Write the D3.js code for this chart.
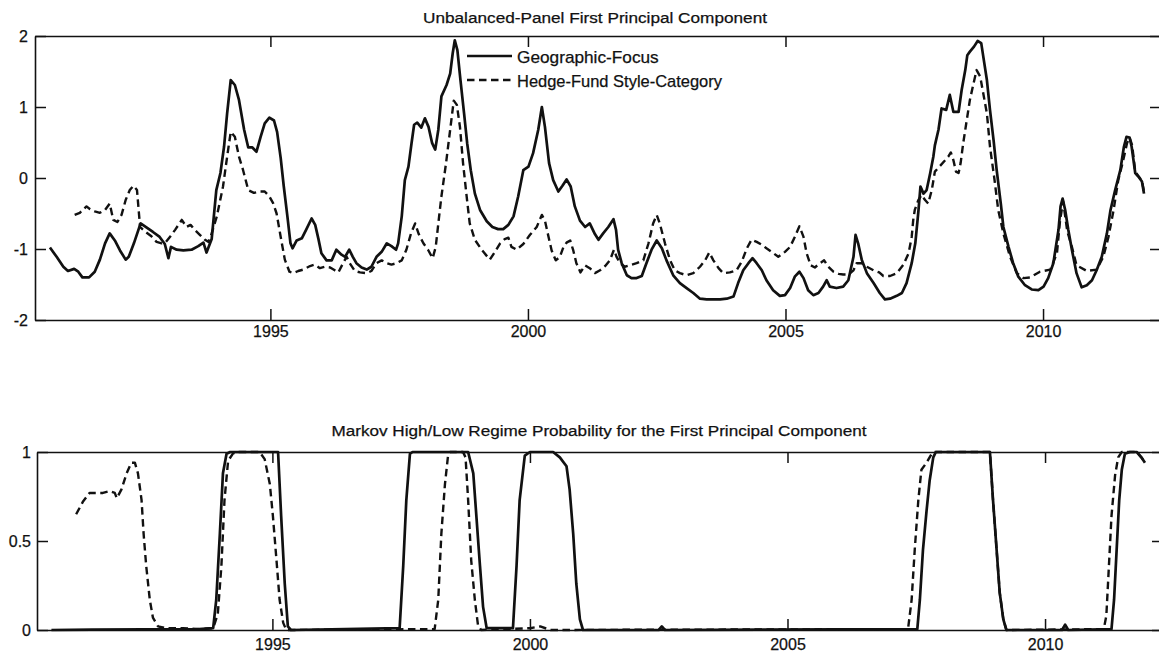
<!DOCTYPE html>
<html>
<head>
<meta charset="utf-8">
<script src="https://cdn.jsdelivr.net/npm/d3@7/dist/d3.min.js"></script>
<style>
  html, body { margin: 0; padding: 0; background: #fff; }
  svg { display: block; }
  text { font-family: "Liberation Sans", Arial, sans-serif; fill: #111; stroke: #111; stroke-width: 0.25px; }
</style>
</head>
<body>
<svg id="chart" width="1159" height="656"></svg>
<script>
// First principal component, Geographic-Focus grouping: [year, value]
const geoPC = [
  [1990.72,-0.98],[1990.85,-1.11],[1990.98,-1.25],[1991.07,-1.31],[1991.19,-1.28],[1991.27,-1.32],
  [1991.35,-1.40],[1991.48,-1.40],[1991.59,-1.32],[1991.69,-1.15],[1991.79,-0.92],[1991.88,-0.78],
  [1991.98,-0.88],[1992.08,-1.02],[1992.19,-1.15],[1992.25,-1.11],[1992.35,-0.92],[1992.48,-0.64],
  [1992.60,-0.70],[1992.72,-0.76],[1992.85,-0.83],[1992.95,-0.93],[1993.02,-1.13],[1993.07,-0.97],
  [1993.18,-1.01],[1993.31,-1.02],[1993.47,-1.01],[1993.60,-0.96],[1993.70,-0.91],[1993.76,-1.05],
  [1993.86,-0.86],[1993.95,-0.17],[1994.03,0.07],[1994.10,0.44],[1994.16,0.91],[1994.23,1.38],
  [1994.31,1.31],[1994.39,1.10],[1994.49,0.68],[1994.57,0.43],[1994.65,0.43],[1994.73,0.37],
  [1994.81,0.58],[1994.89,0.77],[1994.98,0.85],[1995.07,0.81],[1995.13,0.65],[1995.20,0.28],
  [1995.26,-0.12],[1995.33,-0.54],[1995.39,-0.92],[1995.43,-0.99],[1995.51,-0.88],[1995.61,-0.85],
  [1995.70,-0.72],[1995.80,-0.57],[1995.87,-0.66],[1995.93,-0.85],[1995.99,-1.06],[1996.09,-1.16],
  [1996.19,-1.16],[1996.28,-1.01],[1996.38,-1.08],[1996.45,-1.11],[1996.53,-1.01],[1996.60,-1.11],
  [1996.67,-1.20],[1996.77,-1.26],[1996.87,-1.29],[1996.96,-1.25],[1997.06,-1.11],[1997.16,-1.04],
  [1997.26,-0.92],[1997.35,-0.96],[1997.44,-1.01],[1997.48,-0.92],[1997.55,-0.54],[1997.61,-0.03],
  [1997.68,0.16],[1997.74,0.49],[1997.79,0.75],[1997.85,0.78],[1997.93,0.71],[1998.00,0.84],
  [1998.07,0.72],[1998.14,0.49],[1998.20,0.40],[1998.26,0.68],[1998.32,1.15],[1998.42,1.31],
  [1998.49,1.47],[1998.54,1.76],[1998.58,1.94],[1998.63,1.80],[1998.69,1.38],[1998.76,0.91],
  [1998.82,0.49],[1998.89,0.11],[1998.97,-0.22],[1999.07,-0.45],[1999.20,-0.61],[1999.31,-0.69],
  [1999.42,-0.72],[1999.52,-0.72],[1999.62,-0.66],[1999.72,-0.54],[1999.81,-0.26],[1999.91,0.11],
  [2000.01,0.16],[2000.10,0.35],[2000.20,0.68],[2000.27,1.00],[2000.33,0.72],[2000.41,0.21],
  [2000.49,-0.03],[2000.59,-0.19],[2000.67,-0.11],[2000.75,-0.02],[2000.83,-0.12],[2000.91,-0.40],
  [2001.01,-0.60],[2001.11,-0.69],[2001.20,-0.64],[2001.30,-0.79],[2001.37,-0.87],[2001.46,-0.78],
  [2001.56,-0.69],[2001.66,-0.58],[2001.71,-0.73],[2001.75,-1.01],[2001.82,-1.20],[2001.92,-1.37],
  [2002.01,-1.41],[2002.11,-1.41],[2002.21,-1.38],[2002.30,-1.20],[2002.40,-1.01],[2002.50,-0.88],
  [2002.60,-0.99],[2002.69,-1.16],[2002.82,-1.37],[2002.95,-1.48],[2003.08,-1.55],[2003.21,-1.62],
  [2003.34,-1.70],[2003.47,-1.71],[2003.60,-1.71],[2003.73,-1.71],[2003.86,-1.70],[2003.99,-1.67],
  [2004.08,-1.48],[2004.18,-1.30],[2004.28,-1.20],[2004.36,-1.13],[2004.44,-1.20],[2004.54,-1.30],
  [2004.63,-1.44],[2004.76,-1.58],[2004.89,-1.66],[2004.99,-1.65],[2005.09,-1.55],[2005.18,-1.39],
  [2005.27,-1.32],[2005.35,-1.41],[2005.44,-1.58],[2005.54,-1.65],[2005.64,-1.62],[2005.73,-1.53],
  [2005.80,-1.44],[2005.86,-1.53],[2005.99,-1.55],[2006.12,-1.53],[2006.22,-1.44],[2006.32,-1.11],
  [2006.36,-0.80],[2006.41,-0.92],[2006.48,-1.15],[2006.58,-1.34],[2006.71,-1.48],[2006.83,-1.62],
  [2006.93,-1.71],[2007.03,-1.70],[2007.16,-1.66],[2007.26,-1.62],[2007.35,-1.48],[2007.45,-1.20],
  [2007.52,-0.92],[2007.58,-0.47],[2007.62,-0.12],[2007.68,-0.22],[2007.74,-0.17],[2007.81,0.07],
  [2007.87,0.30],[2007.90,0.46],[2007.97,0.68],[2008.03,0.98],[2008.12,0.96],[2008.19,1.17],
  [2008.26,0.93],[2008.36,0.93],[2008.42,1.24],[2008.49,1.52],[2008.53,1.73],[2008.58,1.78],
  [2008.66,1.85],[2008.73,1.93],[2008.80,1.90],[2008.84,1.71],[2008.91,1.38],[2008.97,0.96],
  [2009.04,0.53],[2009.10,0.11],[2009.18,-0.36],[2009.23,-0.69],[2009.33,-0.97],[2009.42,-1.20],
  [2009.52,-1.39],[2009.65,-1.51],[2009.78,-1.57],[2009.91,-1.58],[2010.01,-1.53],[2010.10,-1.41],
  [2010.20,-1.20],[2010.30,-0.73],[2010.34,-0.40],[2010.38,-0.29],[2010.43,-0.45],[2010.49,-0.73],
  [2010.56,-1.01],[2010.65,-1.34],[2010.75,-1.54],[2010.85,-1.51],[2010.95,-1.44],[2011.04,-1.30],
  [2011.14,-1.11],[2011.24,-0.78],[2011.31,-0.45],[2011.40,-0.17],[2011.50,0.11],[2011.57,0.44],
  [2011.62,0.58],[2011.68,0.57],[2011.72,0.44],[2011.79,0.07],[2011.85,0.02],[2011.92,-0.05],
  [2011.96,-0.22]
];

// First principal component, Hedge-Fund Style-Category grouping: [year, value]
const stylePC = [
  [1991.20,-0.52],[1991.30,-0.49],[1991.43,-0.40],[1991.50,-0.44],[1991.59,-0.47],[1991.69,-0.49],
  [1991.79,-0.45],[1991.88,-0.36],[1991.95,-0.59],[1992.03,-0.62],[1992.11,-0.52],[1992.19,-0.31],
  [1992.27,-0.17],[1992.34,-0.11],[1992.41,-0.17],[1992.47,-0.69],[1992.56,-0.75],[1992.69,-0.82],
  [1992.79,-0.90],[1992.89,-0.92],[1992.97,-0.90],[1993.06,-0.82],[1993.15,-0.73],[1993.28,-0.59],
  [1993.37,-0.69],[1993.45,-0.66],[1993.53,-0.73],[1993.63,-0.80],[1993.73,-0.87],[1993.80,-0.90],
  [1993.86,-0.78],[1993.96,-0.54],[1994.08,-0.12],[1994.16,0.30],[1994.23,0.65],[1994.31,0.58],
  [1994.39,0.30],[1994.47,0.11],[1994.57,-0.17],[1994.68,-0.21],[1994.80,-0.19],[1994.89,-0.19],
  [1994.98,-0.26],[1995.05,-0.35],[1995.12,-0.50],[1995.20,-0.83],[1995.28,-1.15],[1995.37,-1.32],
  [1995.44,-1.34],[1995.54,-1.31],[1995.64,-1.29],[1995.77,-1.24],[1995.86,-1.22],[1995.96,-1.27],
  [1996.06,-1.25],[1996.16,-1.26],[1996.25,-1.30],[1996.32,-1.33],[1996.41,-1.20],[1996.48,-1.11],
  [1996.54,-1.20],[1996.64,-1.31],[1996.74,-1.33],[1996.87,-1.34],[1996.96,-1.31],[1997.06,-1.20],
  [1997.16,-1.16],[1997.26,-1.20],[1997.35,-1.22],[1997.45,-1.20],[1997.55,-1.16],[1997.64,-1.01],
  [1997.73,-0.78],[1997.81,-0.64],[1997.88,-0.79],[1997.97,-0.92],[1998.06,-1.01],[1998.15,-1.13],
  [1998.21,-0.97],[1998.26,-0.64],[1998.32,-0.26],[1998.41,0.21],[1998.49,0.68],[1998.56,1.09],
  [1998.62,1.03],[1998.68,0.72],[1998.74,0.21],[1998.81,-0.26],[1998.87,-0.64],[1998.97,-0.87],
  [1999.10,-1.01],[1999.26,-1.15],[1999.36,-1.04],[1999.46,-0.92],[1999.55,-0.86],[1999.62,-0.84],
  [1999.68,-0.97],[1999.78,-1.01],[1999.91,-0.93],[2000.04,-0.80],[2000.17,-0.69],[2000.27,-0.52],
  [2000.33,-0.60],[2000.40,-0.83],[2000.46,-1.02],[2000.54,-1.16],[2000.62,-1.11],[2000.69,-0.97],
  [2000.75,-0.91],[2000.82,-0.88],[2000.88,-1.02],[2000.94,-1.20],[2001.02,-1.33],[2001.11,-1.23],
  [2001.20,-1.27],[2001.30,-1.34],[2001.40,-1.30],[2001.50,-1.24],[2001.59,-1.16],[2001.67,-1.01],
  [2001.72,-1.11],[2001.79,-1.20],[2001.88,-1.25],[2001.98,-1.23],[2002.11,-1.20],[2002.24,-1.16],
  [2002.34,-0.92],[2002.43,-0.64],[2002.50,-0.52],[2002.56,-0.64],[2002.66,-0.92],[2002.76,-1.16],
  [2002.85,-1.30],[2002.95,-1.34],[2003.08,-1.37],[2003.21,-1.34],[2003.34,-1.25],[2003.44,-1.16],
  [2003.52,-1.05],[2003.60,-1.16],[2003.70,-1.27],[2003.79,-1.34],[2003.92,-1.33],[2004.05,-1.30],
  [2004.15,-1.18],[2004.25,-0.99],[2004.34,-0.87],[2004.44,-0.90],[2004.54,-0.94],[2004.63,-0.99],
  [2004.73,-1.04],[2004.86,-1.11],[2004.99,-1.04],[2005.09,-0.97],[2005.18,-0.83],[2005.27,-0.68],
  [2005.35,-0.83],[2005.41,-1.06],[2005.49,-1.23],[2005.57,-1.26],[2005.67,-1.20],[2005.75,-1.16],
  [2005.83,-1.25],[2005.93,-1.32],[2006.03,-1.35],[2006.12,-1.36],[2006.22,-1.36],[2006.32,-1.30],
  [2006.38,-1.20],[2006.48,-1.20],[2006.58,-1.25],[2006.71,-1.30],[2006.82,-1.33],[2006.90,-1.38],
  [2007.03,-1.38],[2007.16,-1.34],[2007.29,-1.22],[2007.39,-1.06],[2007.45,-0.83],[2007.48,-0.59],
  [2007.51,-0.45],[2007.58,-0.31],[2007.64,-0.24],[2007.71,-0.31],[2007.77,-0.36],[2007.84,-0.17],
  [2007.90,0.09],[2008.00,0.17],[2008.10,0.25],[2008.16,0.30],[2008.21,0.36],[2008.26,0.25],
  [2008.31,0.09],[2008.36,0.07],[2008.40,0.21],[2008.45,0.49],[2008.52,0.82],[2008.58,1.10],
  [2008.65,1.33],[2008.71,1.52],[2008.78,1.43],[2008.84,1.19],[2008.91,0.91],[2008.97,0.44],
  [2009.05,0.02],[2009.13,-0.45],[2009.23,-0.78],[2009.36,-1.11],[2009.49,-1.34],[2009.62,-1.41],
  [2009.75,-1.40],[2009.94,-1.32],[2010.14,-1.29],[2010.27,-1.06],[2010.33,-0.60],[2010.39,-0.33],
  [2010.47,-0.75],[2010.56,-0.97],[2010.65,-1.23],[2010.85,-1.31],[2011.04,-1.29],[2011.17,-1.11],
  [2011.27,-0.83],[2011.37,-0.45],[2011.46,-0.03],[2011.55,0.23],[2011.63,0.49],[2011.68,0.57],
  [2011.73,0.46],[2011.79,0.09],[2011.85,0.03],[2011.92,-0.04],[2011.96,-0.19]
];

// Markov high-regime probability, Geographic-Focus: [year, probability]
const geoProb = [
  [1990.71,0],[1991.50,0.002],[1992.50,0.003],[1993.50,0.004],[1993.85,0.01],[1993.91,0.17],
  [1993.98,0.54],[1994.04,0.88],[1994.11,0.99],[1994.18,1],[1995.11,1],[1995.17,0.64],
  [1995.24,0.26],[1995.30,0.02],[1995.36,0],[1997.47,0.01],[1997.54,0.36],[1997.60,0.73],
  [1997.67,0.99],[1997.72,1],[1998.80,1],[1998.90,0.88],[1998.96,0.64],[1999.03,0.36],
  [1999.09,0.13],[1999.16,0.01],[1999.67,0.01],[1999.74,0.36],[1999.80,0.73],[1999.90,0.98],
  [2000.00,1],[2000.45,1],[2000.58,0.97],[2000.71,0.92],[2000.77,0.79],[2000.84,0.54],
  [2000.90,0.26],[2000.97,0.06],[2001.03,0],[2002.50,0],[2002.56,0.02],[2002.62,0],
  [2007.52,0.005],[2007.57,0.17],[2007.63,0.45],[2007.70,0.67],[2007.76,0.84],[2007.83,0.97],
  [2007.88,1],[2008.93,1],[2008.99,0.73],[2009.06,0.45],[2009.12,0.21],[2009.19,0.06],
  [2009.25,0],[2010.33,0],[2010.39,0.03],[2010.45,0],[2011.29,0.005],[2011.34,0.17],
  [2011.39,0.45],[2011.44,0.73],[2011.49,0.90],[2011.55,0.99],[2011.65,1],[2011.78,1],
  [2011.87,0.97],[2011.94,0.94]
];

// Markov high-regime probability, Hedge-Fund Style-Category: [year, probability]
const styleProb = [
  [1991.19,0.65],[1991.32,0.72],[1991.45,0.77],[1991.58,0.77],[1991.71,0.77],[1991.84,0.78],
  [1991.94,0.77],[1991.98,0.74],[1992.07,0.79],[1992.17,0.88],[1992.26,0.94],[1992.33,0.94],
  [1992.39,0.88],[1992.46,0.73],[1992.50,0.54],[1992.55,0.36],[1992.62,0.17],[1992.68,0.07],
  [1992.78,0.02],[1992.94,0.01],[1993.26,0.01],[1993.59,0.005],[1993.85,0.01],[1993.94,0.09],
  [1994.01,0.36],[1994.07,0.73],[1994.14,0.95],[1994.23,0.99],[1994.30,1],[1994.75,1],
  [1994.85,0.96],[1994.95,0.82],[1995.01,0.64],[1995.08,0.39],[1995.14,0.17],[1995.21,0.04],
  [1995.27,0],[1998.15,0.005],[1998.22,0.17],[1998.28,0.54],[1998.35,0.82],[1998.41,0.98],
  [1998.45,1],[1998.70,1],[1998.75,0.97],[1998.80,0.73],[1998.86,0.39],[1998.93,0.17],
  [1998.99,0.03],[1999.05,0],[2000.00,0.01],[2000.20,0.02],[2000.40,0],[2007.34,0.005],
  [2007.41,0.17],[2007.47,0.45],[2007.54,0.73],[2007.60,0.90],[2007.70,0.94],[2007.80,0.99],
  [2007.85,1],[2008.93,1],[2008.99,0.73],[2009.06,0.45],[2009.12,0.21],[2009.19,0.06],
  [2009.25,0],[2011.14,0.005],[2011.19,0.08],[2011.24,0.36],[2011.29,0.64],[2011.36,0.87],
  [2011.42,0.97],[2011.49,1],[2011.65,1],[2011.78,1],[2011.87,0.97],[2011.94,0.94]
];

const yearTicks = [1995, 2000, 2005, 2010];
const pcTicks = [-2, -1, 0, 1, 2];
const probTicks = [0, 0.5, 1];
const seriesNames = ["Geographic-Focus", "Hedge-Fund Style-Category"];
const titles = [
  "Unbalanced-Panel First Principal Component",
  "Markov High/Low Regime Probability for the First Principal Component"
];

const svg = d3.select("#chart");
const INK = "#111";
const DASH = "7.5,4.5";
const TICK = 11;
const SOLID_W = 2.7;
const DASH_W = 2.4;

function drawPanel(cfg) {
  const x = d3.scaleLinear().domain([1990.43, 2012.29]).range([cfg.left, cfg.right]);
  const y = d3.scaleLinear().domain(cfg.yDomain).range([cfg.bottom, cfg.top]);
  const g = svg.append("g");

  const fmt = d => String(d);
  const styleAxis = sel => {
    sel.selectAll("path.domain").attr("stroke", INK).attr("stroke-width", 1.6);
    sel.selectAll(".tick line").attr("stroke", INK).attr("stroke-width", 1.5);
    sel.selectAll("text").attr("font-size", 16).attr("fill", INK)
      .attr("font-family", '"Liberation Sans", Arial, sans-serif');
  };

  g.append("g").attr("transform", `translate(0,${cfg.bottom})`)
    .call(d3.axisBottom(x).tickValues(yearTicks).tickFormat(fmt)
      .tickSizeInner(-TICK).tickSizeOuter(0).tickPadding(cfg.xPad))
    .call(styleAxis);
  g.append("g").attr("transform", `translate(0,${cfg.top})`)
    .call(d3.axisTop(x).tickValues(yearTicks).tickFormat("")
      .tickSizeInner(-TICK).tickSizeOuter(0))
    .call(styleAxis);
  g.append("g").attr("transform", `translate(${cfg.left},0)`)
    .call(d3.axisLeft(y).tickValues(cfg.yTicks).tickFormat(fmt)
      .tickSizeInner(-TICK).tickSizeOuter(0).tickPadding(cfg.yPad))
    .call(styleAxis);
  g.append("g").attr("transform", `translate(${cfg.right},0)`)
    .call(d3.axisRight(y).tickValues(cfg.yTicks).tickFormat("")
      .tickSizeInner(-TICK).tickSizeOuter(0))
    .call(styleAxis);

  const line = d3.line().x(d => x(d[0])).y(d => y(d[1]));
  g.append("path").datum(cfg.dashed).attr("d", line)
    .attr("fill", "none").attr("stroke", INK).attr("stroke-width", DASH_W)
    .attr("stroke-dasharray", DASH).attr("stroke-linejoin", "round");
  g.append("path").datum(cfg.solid).attr("d", line)
    .attr("fill", "none").attr("stroke", INK).attr("stroke-width", SOLID_W)
    .attr("stroke-linejoin", "round");

  g.append("text").attr("x", cfg.titleX).attr("y", cfg.titleY)
    .attr("text-anchor", "middle").attr("font-size", 15.5)
    .attr("textLength", cfg.titleLen).attr("lengthAdjust", "spacingAndGlyphs")
    .text(cfg.title);
  return { x, y, g };
}

drawPanel({
  left: 35, right: 1161, top: 36, bottom: 320,
  yDomain: [-2, 2], yTicks: pcTicks, xPad: 6, yPad: 7,
  solid: geoPC, dashed: stylePC,
  title: titles[0], titleX: 595, titleY: 22.5, titleLen: 344
});

drawPanel({
  left: 37, right: 1163, top: 452, bottom: 630,
  yDomain: [0, 1], yTicks: probTicks, xPad: 8.5, yPad: 6,
  solid: geoProb, dashed: styleProb,
  title: titles[1], titleX: 599, titleY: 436, titleLen: 535
});

// Legend (no box)
const legend = svg.append("g");
const legendRows = [
  { name: seriesNames[0], y: 56, dash: null, len: 141.7 },
  { name: seriesNames[1], y: 80, dash: DASH, len: 205 }
];
legendRows.forEach(r => {
  legend.append("line").attr("x1", 467).attr("x2", 512).attr("y1", r.y).attr("y2", r.y)
    .attr("stroke", INK).attr("stroke-width", r.dash ? DASH_W : SOLID_W)
    .attr("stroke-dasharray", r.dash);
  legend.append("text").attr("x", 517).attr("y", r.y + 6.5)
    .attr("font-size", 17).attr("textLength", r.len).attr("lengthAdjust", "spacingAndGlyphs")
    .text(r.name);
});
</script>
</body>
</html>
